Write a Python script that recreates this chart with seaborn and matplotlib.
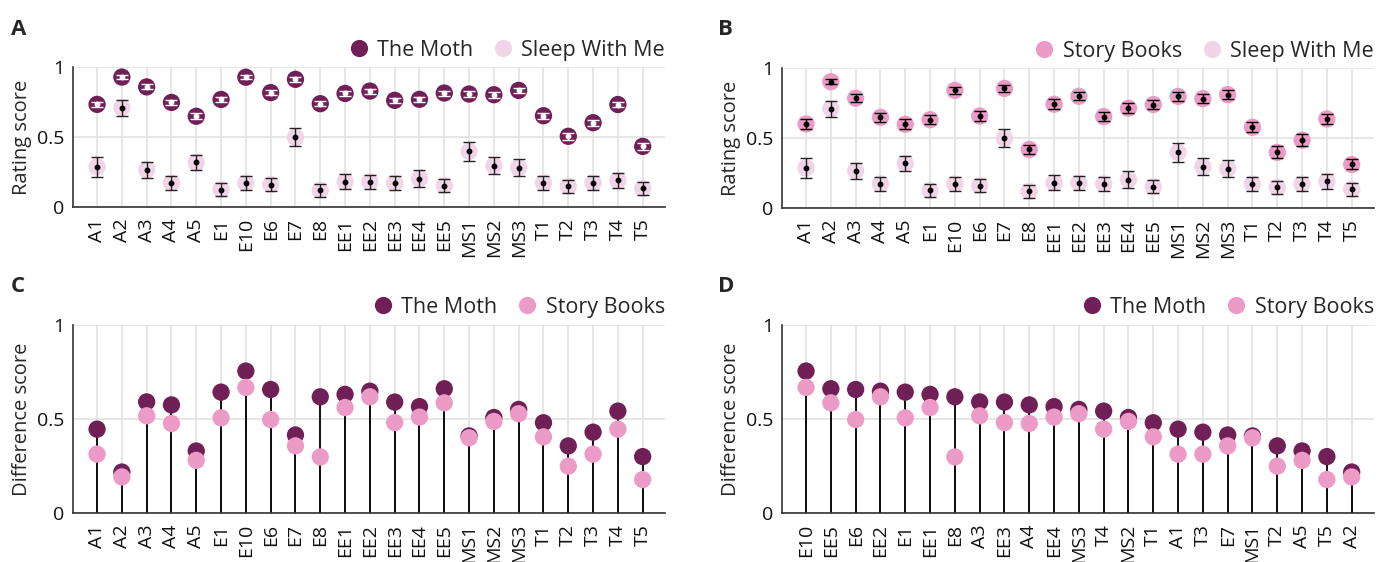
import numpy as np
import pandas as pd
import matplotlib
matplotlib.use("Agg")
import matplotlib.pyplot as plt
import seaborn as sns
from matplotlib.lines import Line2D

# Story identifiers
stories = ["A1", "A2", "A3", "A4", "A5", "E1", "E10", "E6", "E7", "E8",
           "EE1", "EE2", "EE3", "EE4", "EE5", "MS1", "MS2", "MS3",
           "T1", "T2", "T3", "T4", "T5"]

# Mean rating scores and their standard errors per podcast
moth_mean = [0.733, 0.928, 0.858, 0.747, 0.648, 0.768, 0.927, 0.817, 0.912, 0.738,
             0.811, 0.828, 0.762, 0.769, 0.814, 0.807, 0.802, 0.833,
             0.652, 0.505, 0.602, 0.732, 0.433]
moth_err = [0.020, 0.014, 0.018, 0.020, 0.022, 0.020, 0.016, 0.020, 0.017, 0.020,
            0.019, 0.018, 0.020, 0.020, 0.018, 0.020, 0.020, 0.018,
            0.022, 0.024, 0.022, 0.020, 0.024]

story_mean = [0.600, 0.902, 0.784, 0.648, 0.598, 0.631, 0.840, 0.657, 0.854, 0.418,
              0.741, 0.798, 0.653, 0.713, 0.739, 0.797, 0.781, 0.810,
              0.577, 0.397, 0.485, 0.636, 0.311]
story_err = [0.036, 0.019, 0.030, 0.032, 0.036, 0.033, 0.025, 0.033, 0.022, 0.035,
             0.036, 0.030, 0.033, 0.034, 0.030, 0.033, 0.033, 0.030,
             0.035, 0.043, 0.040, 0.033, 0.036]

sleep_mean = [0.287, 0.710, 0.267, 0.172, 0.318, 0.125, 0.172, 0.160, 0.497, 0.120,
              0.180, 0.180, 0.172, 0.203, 0.153, 0.397, 0.294, 0.282,
              0.172, 0.148, 0.172, 0.190, 0.133]
sleep_err = [0.071, 0.057, 0.057, 0.052, 0.056, 0.049, 0.052, 0.049, 0.064, 0.046,
             0.054, 0.050, 0.050, 0.060, 0.044, 0.065, 0.060, 0.060,
             0.050, 0.048, 0.052, 0.051, 0.048]

MOTH = "#701f57"
STORY = "#ec9ac6"
SLEEP = "#f1d4e8"
GRID = "#e2e2e2"
SPINE = "#333333"

sns.set_theme(style="white")
plt.rcParams["font.family"] = ["Open Sans", "DejaVu Sans"]

TICK_FS = 14
LABEL_FS = 14.5
LEG_FS = 15.5
MS = 155  # scatter marker area

fig = plt.figure(figsize=(13.87, 5.62), dpi=100)
W, H = 1387.0, 562.0


def add_axes_px(left, right, top, bottom):
    return fig.add_axes([left / W, 1 - bottom / H, (right - left) / W, (bottom - top) / H])


def style_axes(ax, labels, ylabel):
    n = len(labels)
    ax.set_xlim(-0.97, n - 0.1)
    ax.set_ylim(0, 1)
    ax.set_xticks(np.arange(n))
    ax.set_xticklabels(labels, rotation=90, fontsize=TICK_FS)
    ax.set_yticks([0, 0.5, 1])
    ax.set_yticklabels(["0", "0.5", "1"], fontsize=TICK_FS)
    ax.set_ylabel(ylabel, fontsize=LABEL_FS, labelpad=4)
    ax.set_xlabel("")
    ax.tick_params(axis="both", direction="in", length=5, width=1, color=SPINE,
                   labelcolor="#111111")
    ax.tick_params(axis="x", pad=8)
    ax.tick_params(axis="y", pad=6)
    ax.set_axisbelow(True)
    ax.grid(True, axis="both", color=GRID, linewidth=1.2)
    for s in ("top", "right"):
        ax.spines[s].set_visible(False)
    for s in ("left", "bottom"):
        ax.spines[s].set_color(SPINE)
        ax.spines[s].set_linewidth(1.2)


def add_legend(ax, entries, dy_px):
    handles = [Line2D([], [], linestyle="none", marker="o", markersize=12.4,
                      markerfacecolor=c, markeredgecolor="none", label=l)
               for l, c in entries]
    h_ax = ax.get_position().height * H
    ax.legend(handles=handles, loc="lower right", bbox_to_anchor=(1.0, 1.0 + dy_px / h_ax),
              ncol=len(handles), frameon=False, fontsize=LEG_FS, borderaxespad=0,
              borderpad=0, handlelength=1.0, handletextpad=0.35, columnspacing=0.9)


x = np.arange(len(stories))

# ---- Rating panels -------------------------------------------------------
def rating_panel(ax, top_mean, top_err, top_color, bar_color, top_label):
    sns.scatterplot(x=stories, y=sleep_mean, color=SLEEP, s=MS, edgecolor="none",
                    ax=ax, zorder=2, clip_on=False)
    ax.errorbar(x, sleep_mean, yerr=sleep_err, fmt="o", markersize=3.2, color="black",
                ecolor="#222222", elinewidth=1.0, capsize=4.5, capthick=1.0, zorder=3)
    sns.scatterplot(x=stories, y=top_mean, color=top_color, s=MS, edgecolor="none",
                    ax=ax, zorder=4, clip_on=False)
    ax.errorbar(x, top_mean, yerr=top_err, fmt="o", markersize=3.2, color=bar_color,
                ecolor=bar_color, elinewidth=1.0, capsize=4.5, capthick=1.0, zorder=5)
    style_axes(ax, stories, "Rating score")
    add_legend(ax, [(top_label, top_color), ("Sleep With Me", SLEEP)], 6)


axA = add_axes_px(73, 665, 67, 207)
rating_panel(axA, moth_mean, moth_err, MOTH, "white", "The Moth")

axB = add_axes_px(782, 1374, 68, 208)
rating_panel(axB, story_mean, story_err, STORY, "black", "Story Books")

# ---- Difference panels ---------------------------------------------------
diff = pd.DataFrame({
    "story": stories,
    "moth": np.array(moth_mean) - np.array(sleep_mean),
    "books": np.array(story_mean) - np.array(sleep_mean),
})


def diff_panel(ax, df):
    pos = np.arange(len(df))
    ax.vlines(pos, 0, df["moth"], color="#111111", linewidth=1.4, zorder=2)
    ax.vlines(pos, 0, df["books"], color="#111111", linewidth=1.4, zorder=2)
    sns.scatterplot(x=df["story"], y=df["moth"], color=MOTH, s=MS, edgecolor="none",
                    ax=ax, zorder=3, clip_on=False)
    sns.scatterplot(x=df["story"], y=df["books"], color=STORY, s=MS, edgecolor="none",
                    ax=ax, zorder=4, clip_on=False)
    style_axes(ax, list(df["story"]), "Difference score")
    add_legend(ax, [("The Moth", MOTH), ("Story Books", STORY)], 7)


axC = add_axes_px(73, 665, 325, 513)
diff_panel(axC, diff)

axD = add_axes_px(782, 1374, 325, 513)
diff_panel(axD, diff.sort_values("moth", ascending=False, kind="stable").reset_index(drop=True))

# ---- Panel letters -------------------------------------------------------
for letter, (px, py) in {"A": (11, 35), "B": (718, 35), "C": (11, 292), "D": (718, 292)}.items():
    fig.text(px / W, 1 - py / H, letter, fontsize=16, fontweight="bold",
             ha="left", va="baseline")

fig.savefig("out.png", dpi=100)
